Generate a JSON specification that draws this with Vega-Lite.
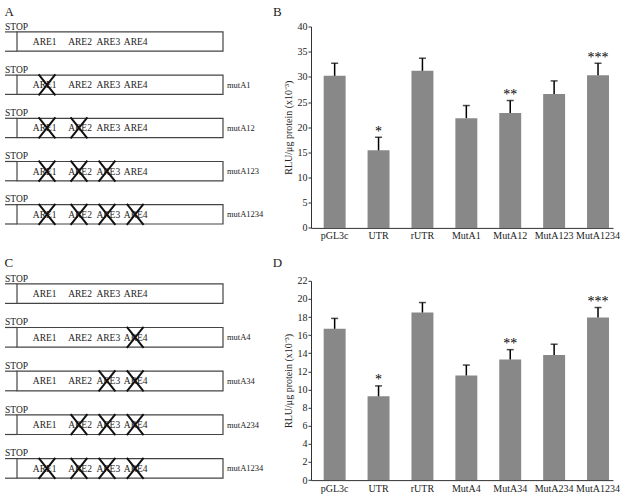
{
  "$schema": "https://vega.github.io/schema/vega-lite/v6.json",
  "padding": {"left": 0, "top": 5.5, "right": 0, "bottom": 0},
  "autosize": {"type": "pad"},
  "background": "white",
  "config": {
    "view": {"stroke": null, "fill": "white"},
    "font": "Liberation Serif",
    "mark": {"font": "Liberation Serif"},
    "text": {"font": "Liberation Serif", "fill": "#222"},
    "axis": {
      "domainColor": "#333", "tickColor": "#333", "labelColor": "#222", "titleColor": "#222",
      "labelFont": "Liberation Serif", "titleFont": "Liberation Serif",
      "labelFontSize": 10, "titleFontSize": 10, "titleFontWeight": "normal",
      "grid": false, "tickSize": 3, "labelPadding": 1, "domainWidth": 1, "labelOverlap": false
    }
  },
  "datasets": {
    "bars": [
      {"panel": "B", "construct": "pGL3c", "mean": 30.2, "err": 32.7, "sig": ""},
      {"panel": "B", "construct": "UTR", "mean": 15.4, "err": 18.0, "sig": "*"},
      {"panel": "B", "construct": "rUTR", "mean": 31.2, "err": 33.7, "sig": ""},
      {"panel": "B", "construct": "MutA1", "mean": 21.8, "err": 24.3, "sig": ""},
      {"panel": "B", "construct": "MutA12", "mean": 22.8, "err": 25.3, "sig": "**"},
      {"panel": "B", "construct": "MutA123", "mean": 26.6, "err": 29.2, "sig": ""},
      {"panel": "B", "construct": "MutA1234", "mean": 30.3, "err": 32.7, "sig": "***"},
      {"panel": "D", "construct": "pGL3c", "mean": 16.7, "err": 17.85, "sig": ""},
      {"panel": "D", "construct": "UTR", "mean": 9.25, "err": 10.4, "sig": "*"},
      {"panel": "D", "construct": "rUTR", "mean": 18.5, "err": 19.6, "sig": ""},
      {"panel": "D", "construct": "MutA4", "mean": 11.55, "err": 12.7, "sig": ""},
      {"panel": "D", "construct": "MutA34", "mean": 13.3, "err": 14.4, "sig": "**"},
      {"panel": "D", "construct": "MutA234", "mean": 13.8, "err": 15.0, "sig": ""},
      {"panel": "D", "construct": "MutA1234", "mean": 17.95, "err": 19.05, "sig": "***"}
    ],
    "constructs": [
      {"panel": "A", "row": 0, "label": "", "m1": false, "m2": false, "m3": false, "m4": false},
      {"panel": "A", "row": 1, "label": "mutA1", "m1": true, "m2": false, "m3": false, "m4": false},
      {"panel": "A", "row": 2, "label": "mutA12", "m1": true, "m2": true, "m3": false, "m4": false},
      {"panel": "A", "row": 3, "label": "mutA123", "m1": true, "m2": true, "m3": true, "m4": false},
      {"panel": "A", "row": 4, "label": "mutA1234", "m1": true, "m2": true, "m3": true, "m4": true},
      {"panel": "C", "row": 0, "label": "", "m1": false, "m2": false, "m3": false, "m4": false},
      {"panel": "C", "row": 1, "label": "mutA4", "m1": false, "m2": false, "m3": false, "m4": true},
      {"panel": "C", "row": 2, "label": "mutA34", "m1": false, "m2": false, "m3": true, "m4": true},
      {"panel": "C", "row": 3, "label": "mutA234", "m1": false, "m2": true, "m3": true, "m4": true},
      {"panel": "C", "row": 4, "label": "mutA1234", "m1": true, "m2": true, "m3": true, "m4": true}
    ],
    "ares": [
      {"key": "m1", "name": "ARE1", "labelX": 44.7, "crossX": 47},
      {"key": "m2", "name": "ARE2", "labelX": 80, "crossX": 79},
      {"key": "m3", "name": "ARE3", "labelX": 108.3, "crossX": 107},
      {"key": "m4", "name": "ARE4", "labelX": 135.7, "crossX": 135.2}
    ]
  },
  "columns": 2,
  "spacing": {"row": 52.3, "column": 31},
  "bounds": "flush",
  "align": "each",
  "resolve": {"scale": {"x": "independent", "y": "independent"}},
  "concat": [
    {
      "width": 280, "height": 201.4,
      "data": {"name": "constructs"},
      "transform": [{"filter": "datum.panel === 'A'"}],
      "layer": [
        {
          "mark": {"type": "rect", "fill": "white", "stroke": "#444", "strokeWidth": 1.2},
          "encoding": {
            "x": {"datum": 17, "type": "quantitative", "scale": {"domain": [0, 280], "nice": false, "zero": false}, "axis": null},
            "x2": {"datum": 223},
            "y": {"field": "row", "type": "ordinal", "scale": {"type": "band", "paddingInner": 0.553, "paddingOuter": 0.108, "align": 0.58}, "axis": null}
          }
        },
        {
          "mark": {"type": "rule", "color": "#444", "strokeWidth": 1.2},
          "encoding": {
            "x": {"datum": 5, "type": "quantitative"}, "x2": {"datum": 17},
            "y": {"field": "row", "type": "ordinal", "bandPosition": 0}
          }
        },
        {
          "mark": {"type": "rule", "color": "#444", "strokeWidth": 1.2},
          "encoding": {
            "x": {"datum": 5, "type": "quantitative"}, "x2": {"datum": 17},
            "y": {"field": "row", "type": "ordinal", "bandPosition": 1}
          }
        },
        {
          "mark": {"type": "text", "text": "STOP", "font": "Liberation Serif", "fill": "#222", "align": "left", "baseline": "alphabetic", "dy": -2.2, "fontSize": 9.5},
          "encoding": {
            "x": {"datum": 5, "type": "quantitative"},
            "y": {"field": "row", "type": "ordinal", "bandPosition": 0}
          }
        },
        {
          "transform": [
            {"fold": ["m1", "m2", "m3", "m4"], "as": ["key", "mutated"]},
            {"lookup": "key", "from": {"data": {"name": "ares"}, "key": "key", "fields": ["name", "labelX", "crossX"]}}
          ],
          "layer": [
            {
              "mark": {"type": "text", "font": "Liberation Serif", "fill": "#222", "align": "center", "baseline": "alphabetic", "dy": 3.5, "fontSize": 9.5},
              "encoding": {
                "x": {"field": "labelX", "type": "quantitative"},
                "y": {"field": "row", "type": "ordinal"},
                "text": {"field": "name"}
              }
            },
            {
              "transform": [{"filter": "datum.mutated"}],
              "mark": {"type": "point", "shape": "M-0.8,-1L0.8,1M0.8,-1L-0.8,1", "size": 441, "filled": false, "stroke": "#111", "strokeWidth": 2, "opacity": 1},
              "encoding": {
                "x": {"field": "crossX", "type": "quantitative"},
                "y": {"field": "row", "type": "ordinal"}
              }
            }
          ]
        },
        {
          "mark": {"type": "text", "font": "Liberation Serif", "fill": "#222", "align": "left", "baseline": "alphabetic", "dy": 3, "fontSize": 8.5},
          "encoding": {
            "x": {"datum": 227, "type": "quantitative"},
            "y": {"field": "row", "type": "ordinal"},
            "text": {"field": "label"}
          }
        },
        {
          "transform": [{"filter": "datum.row === 0"}],
          "layer": [
            {
              "mark": {"type": "text", "text": "A", "font": "Liberation Serif", "fill": "#222", "align": "left", "baseline": "alphabetic", "dy": -16.2, "fontSize": 13},
              "encoding": {"x": {"datum": 4.5, "type": "quantitative"}, "y": {"field": "row", "type": "ordinal", "bandPosition": 0}}
            },
            {
              "mark": {"type": "text", "text": "B", "font": "Liberation Serif", "fill": "#222", "align": "left", "baseline": "alphabetic", "dy": -16.2, "fontSize": 13},
              "encoding": {"x": {"datum": 273, "type": "quantitative"}, "y": {"field": "row", "type": "ordinal", "bandPosition": 0}}
            }
          ]
        }
      ]
    },
    {
      "width": 302, "height": 201.4,
      "data": {"name": "bars"},
      "transform": [{"filter": "datum.panel === 'B'"}],
      "encoding": {
        "x": {"field": "construct", "type": "nominal", "sort": null,
          "scale": {"paddingInner": 0.5, "paddingOuter": 0.19, "align": 0.76},
          "axis": {"title": null, "ticks": false, "labelPadding": 3, "labelAngle": 0}}
      },
      "layer": [
        {
          "mark": {"type": "bar", "color": "#888888"},
          "encoding": {"y": {"field": "mean", "type": "quantitative",
            "scale": {"domain": [0, 40], "nice": false},
            "axis": {"title": "RLU/μg protein (x10⁻³)", "values": [0, 5, 10, 15, 20, 25, 30, 35, 40], "titlePadding": 4}}}
        },
        {
          "mark": {"type": "rule", "color": "black", "strokeWidth": 1.5},
          "encoding": {"y": {"field": "mean", "type": "quantitative",
            "axis": {"title": "RLU/μg protein (x10⁻³)", "values": [0, 5, 10, 15, 20, 25, 30, 35, 40], "titlePadding": 4}}, "y2": {"field": "err"}}
        },
        {
          "mark": {"type": "tick", "color": "black", "size": 7, "thickness": 1.5, "orient": "horizontal"},
          "encoding": {"y": {"field": "err", "type": "quantitative",
            "axis": {"title": "RLU/μg protein (x10⁻³)", "values": [0, 5, 10, 15, 20, 25, 30, 35, 40], "titlePadding": 4}}}
        },
        {
          "mark": {"type": "text", "font": "Liberation Serif", "fill": "black", "fontSize": 14, "baseline": "alphabetic", "dy": -1.5},
          "encoding": {"y": {"field": "err", "type": "quantitative",
            "axis": {"title": "RLU/μg protein (x10⁻³)", "values": [0, 5, 10, 15, 20, 25, 30, 35, 40], "titlePadding": 4}}, "text": {"field": "sig"}}
        }
      ]
    },
    {
      "width": 280, "height": 199.3,
      "data": {"name": "constructs"},
      "transform": [{"filter": "datum.panel === 'C'"}],
      "layer": [
        {
          "mark": {"type": "rect", "fill": "white", "stroke": "#444", "strokeWidth": 1.2},
          "encoding": {
            "x": {"datum": 17, "type": "quantitative", "scale": {"domain": [0, 280], "nice": false, "zero": false}, "axis": null},
            "x2": {"datum": 223},
            "y": {"field": "row", "type": "ordinal", "scale": {"type": "band", "paddingInner": 0.551, "paddingOuter": 0.056, "align": 0.61}, "axis": null}
          }
        },
        {
          "mark": {"type": "rule", "color": "#444", "strokeWidth": 1.2},
          "encoding": {
            "x": {"datum": 5, "type": "quantitative"}, "x2": {"datum": 17},
            "y": {"field": "row", "type": "ordinal", "bandPosition": 0}
          }
        },
        {
          "mark": {"type": "rule", "color": "#444", "strokeWidth": 1.2},
          "encoding": {
            "x": {"datum": 5, "type": "quantitative"}, "x2": {"datum": 17},
            "y": {"field": "row", "type": "ordinal", "bandPosition": 1}
          }
        },
        {
          "mark": {"type": "text", "text": "STOP", "font": "Liberation Serif", "fill": "#222", "align": "left", "baseline": "alphabetic", "dy": -2.2, "fontSize": 9.5},
          "encoding": {
            "x": {"datum": 5, "type": "quantitative"},
            "y": {"field": "row", "type": "ordinal", "bandPosition": 0}
          }
        },
        {
          "transform": [
            {"fold": ["m1", "m2", "m3", "m4"], "as": ["key", "mutated"]},
            {"lookup": "key", "from": {"data": {"name": "ares"}, "key": "key", "fields": ["name", "labelX", "crossX"]}}
          ],
          "layer": [
            {
              "mark": {"type": "text", "font": "Liberation Serif", "fill": "#222", "align": "center", "baseline": "alphabetic", "dy": 3.5, "fontSize": 9.5},
              "encoding": {
                "x": {"field": "labelX", "type": "quantitative"},
                "y": {"field": "row", "type": "ordinal"},
                "text": {"field": "name"}
              }
            },
            {
              "transform": [{"filter": "datum.mutated"}],
              "mark": {"type": "point", "shape": "M-0.8,-1L0.8,1M0.8,-1L-0.8,1", "size": 441, "filled": false, "stroke": "#111", "strokeWidth": 2, "opacity": 1},
              "encoding": {
                "x": {"field": "crossX", "type": "quantitative"},
                "y": {"field": "row", "type": "ordinal"}
              }
            }
          ]
        },
        {
          "mark": {"type": "text", "font": "Liberation Serif", "fill": "#222", "align": "left", "baseline": "alphabetic", "dy": 3, "fontSize": 8.5},
          "encoding": {
            "x": {"datum": 227, "type": "quantitative"},
            "y": {"field": "row", "type": "ordinal"},
            "text": {"field": "label"}
          }
        },
        {
          "transform": [{"filter": "datum.row === 0"}],
          "layer": [
            {
              "mark": {"type": "text", "text": "C", "font": "Liberation Serif", "fill": "#222", "align": "left", "baseline": "alphabetic", "dy": -17, "fontSize": 13},
              "encoding": {"x": {"datum": 4.5, "type": "quantitative"}, "y": {"field": "row", "type": "ordinal", "bandPosition": 0}}
            },
            {
              "mark": {"type": "text", "text": "D", "font": "Liberation Serif", "fill": "#222", "align": "left", "baseline": "alphabetic", "dy": -17, "fontSize": 13},
              "encoding": {"x": {"datum": 272.7, "type": "quantitative"}, "y": {"field": "row", "type": "ordinal", "bandPosition": 0}}
            }
          ]
        }
      ]
    },
    {
      "width": 302, "height": 199.3,
      "data": {"name": "bars"},
      "transform": [{"filter": "datum.panel === 'D'"}],
      "encoding": {
        "x": {"field": "construct", "type": "nominal", "sort": null,
          "scale": {"paddingInner": 0.5, "paddingOuter": 0.19, "align": 0.76},
          "axis": {"title": null, "ticks": false, "labelPadding": 3, "labelAngle": 0}}
      },
      "layer": [
        {
          "mark": {"type": "bar", "color": "#888888"},
          "encoding": {"y": {"field": "mean", "type": "quantitative",
            "scale": {"domain": [0, 22], "nice": false},
            "axis": {"title": "RLU/μg protein (x10⁻³)", "values": [0, 2, 4, 6, 8, 10, 12, 14, 16, 18, 20, 22], "titlePadding": 4}}}
        },
        {
          "mark": {"type": "rule", "color": "black", "strokeWidth": 1.5},
          "encoding": {"y": {"field": "mean", "type": "quantitative",
            "axis": {"title": "RLU/μg protein (x10⁻³)", "values": [0, 2, 4, 6, 8, 10, 12, 14, 16, 18, 20, 22], "titlePadding": 4}}, "y2": {"field": "err"}}
        },
        {
          "mark": {"type": "tick", "color": "black", "size": 7, "thickness": 1.5, "orient": "horizontal"},
          "encoding": {"y": {"field": "err", "type": "quantitative",
            "axis": {"title": "RLU/μg protein (x10⁻³)", "values": [0, 2, 4, 6, 8, 10, 12, 14, 16, 18, 20, 22], "titlePadding": 4}}}
        },
        {
          "mark": {"type": "text", "font": "Liberation Serif", "fill": "black", "fontSize": 14, "baseline": "alphabetic", "dy": -1.5},
          "encoding": {"y": {"field": "err", "type": "quantitative",
            "axis": {"title": "RLU/μg protein (x10⁻³)", "values": [0, 2, 4, 6, 8, 10, 12, 14, 16, 18, 20, 22], "titlePadding": 4}}, "text": {"field": "sig"}}
        }
      ]
    }
  ]
}
